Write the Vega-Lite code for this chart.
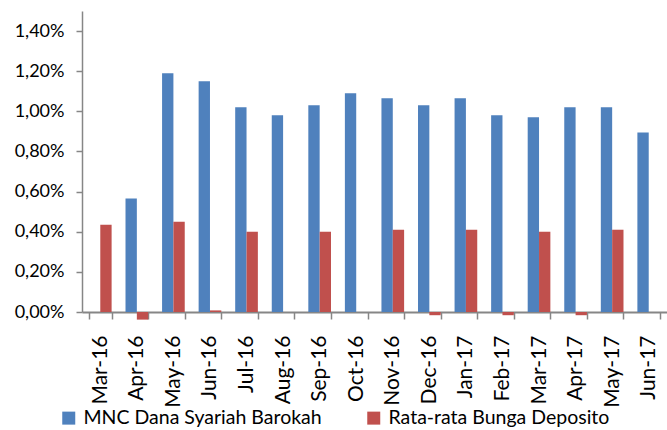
{
  "$schema": "https://vega.github.io/schema/vega-lite/v6.json",
  "autosize": "none",
  "padding": {"left": 82, "top": 11, "right": 0, "bottom": 118},
  "width": 585,
  "height": 301,
  "background": "white",
  "data": {
    "values": [
      {"month": "Mar-16", "series": "MNC Dana Syariah Barokah", "value": 0},
      {"month": "Mar-16", "series": "Rata-rata Bunga Deposito", "value": 0.435},
      {"month": "Apr-16", "series": "MNC Dana Syariah Barokah", "value": 0.565},
      {"month": "Apr-16", "series": "Rata-rata Bunga Deposito", "value": -0.038},
      {"month": "May-16", "series": "MNC Dana Syariah Barokah", "value": 1.19},
      {"month": "May-16", "series": "Rata-rata Bunga Deposito", "value": 0.45},
      {"month": "Jun-16", "series": "MNC Dana Syariah Barokah", "value": 1.15},
      {"month": "Jun-16", "series": "Rata-rata Bunga Deposito", "value": 0.008},
      {"month": "Jul-16", "series": "MNC Dana Syariah Barokah", "value": 1.02},
      {"month": "Jul-16", "series": "Rata-rata Bunga Deposito", "value": 0.40},
      {"month": "Aug-16", "series": "MNC Dana Syariah Barokah", "value": 0.98},
      {"month": "Aug-16", "series": "Rata-rata Bunga Deposito", "value": 0},
      {"month": "Sep-16", "series": "MNC Dana Syariah Barokah", "value": 1.03},
      {"month": "Sep-16", "series": "Rata-rata Bunga Deposito", "value": 0.40},
      {"month": "Oct-16", "series": "MNC Dana Syariah Barokah", "value": 1.09},
      {"month": "Oct-16", "series": "Rata-rata Bunga Deposito", "value": 0},
      {"month": "Nov-16", "series": "MNC Dana Syariah Barokah", "value": 1.065},
      {"month": "Nov-16", "series": "Rata-rata Bunga Deposito", "value": 0.41},
      {"month": "Dec-16", "series": "MNC Dana Syariah Barokah", "value": 1.03},
      {"month": "Dec-16", "series": "Rata-rata Bunga Deposito", "value": -0.016},
      {"month": "Jan-17", "series": "MNC Dana Syariah Barokah", "value": 1.065},
      {"month": "Jan-17", "series": "Rata-rata Bunga Deposito", "value": 0.41},
      {"month": "Feb-17", "series": "MNC Dana Syariah Barokah", "value": 0.98},
      {"month": "Feb-17", "series": "Rata-rata Bunga Deposito", "value": -0.016},
      {"month": "Mar-17", "series": "MNC Dana Syariah Barokah", "value": 0.97},
      {"month": "Mar-17", "series": "Rata-rata Bunga Deposito", "value": 0.40},
      {"month": "Apr-17", "series": "MNC Dana Syariah Barokah", "value": 1.02},
      {"month": "Apr-17", "series": "Rata-rata Bunga Deposito", "value": -0.016},
      {"month": "May-17", "series": "MNC Dana Syariah Barokah", "value": 1.02},
      {"month": "May-17", "series": "Rata-rata Bunga Deposito", "value": 0.41},
      {"month": "Jun-17", "series": "MNC Dana Syariah Barokah", "value": 0.895},
      {"month": "Jun-17", "series": "Rata-rata Bunga Deposito", "value": 0}
    ]
  },
  "mark": {"type": "bar", "clip": false},
  "encoding": {
    "x": {
      "field": "month",
      "type": "nominal",
      "sort": null,
      "scale": {"paddingInner": 0.38, "paddingOuter": 0.19},
      "axis": {
        "title": null,
        "labelAngle": -90,
        "labelAlign": "right",
        "labelBaseline": "middle",
        "labelPadding": 16,
        "labelFont": "Lato",
        "labelFontSize": 21,
        "labelColor": "#000000",
        "domainColor": "#868686",
        "domainWidth": 2,
        "tickColor": "#868686",
        "tickWidth": 1.5,
        "tickSize": 7,
        "tickBand": "extent",
        "grid": false
      }
    },
    "xOffset": {
      "field": "series",
      "type": "nominal",
      "scale": {"paddingInner": 0, "paddingOuter": 0}
    },
    "y": {
      "field": "value",
      "type": "quantitative",
      "scale": {"domain": [0, 1.5], "nice": false, "zero": true},
      "axis": {
        "title": null,
        "values": [0, 0.2, 0.4, 0.6, 0.8, 1.0, 1.2, 1.4],
        "labelExpr": "replace(format(datum.value, '.2f'), '.', ',') + '%'",
        "labelFont": "Lato",
        "labelFontSize": 18,
        "labelColor": "#000000",
        "labelPadding": 12,
        "grid": false,
        "domainColor": "#868686",
        "domainWidth": 1.5,
        "tickColor": "#868686",
        "tickWidth": 1.5,
        "tickSize": 6
      }
    },
    "color": {
      "field": "series",
      "type": "nominal",
      "scale": {
        "domain": ["MNC Dana Syariah Barokah", "Rata-rata Bunga Deposito"],
        "range": ["#4F81BD", "#C0504D"]
      },
      "legend": {
        "title": null,
        "orient": "none",
        "direction": "horizontal",
        "columns": 2,
        "legendX": -23,
        "legendY": 397,
        "symbolType": "square",
        "symbolSize": 169,
        "symbolStrokeWidth": 0,
        "labelFont": "Lato",
        "labelFontSize": 19.5,
        "labelColor": "#000000",
        "labelOffset": 5,
        "columnPadding": 42,
        "labelLimit": 400
      }
    }
  },
  "config": {
    "view": {"stroke": null}
  }
}
